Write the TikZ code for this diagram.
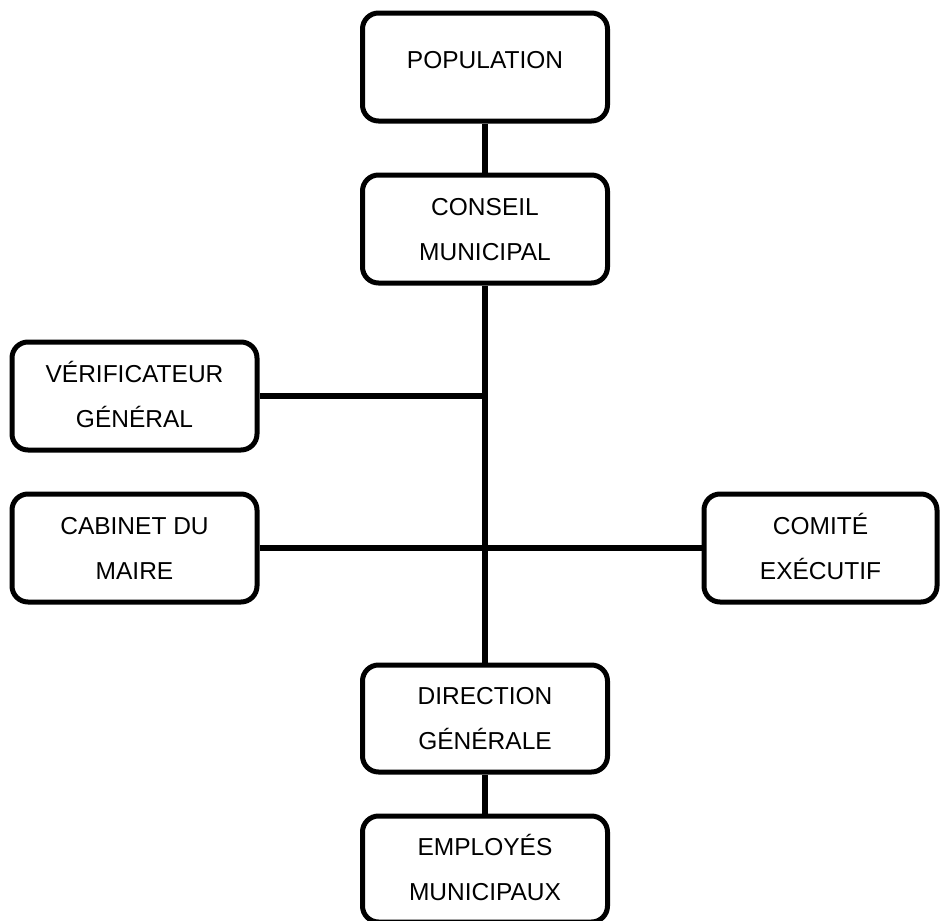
\documentclass[tikz,border=0pt]{standalone}
\usepackage{fontspec}
\setmainfont{Liberation Sans}
\newcommand\twoline[2]{\rule{0pt}{17.5pt}\smash{#1}\\\smash{#2}}
\newcommand\oneline[1]{\rule{0pt}{17.5pt}\smash{\raisebox{7pt}{#1}}}
\begin{document}
\begin{tikzpicture}[x=1pt,y=-1pt,
  box/.style={draw=black, line width=5pt, rounded corners=16pt, minimum width=245pt,
    minimum height=108pt, align=center, inner sep=0pt,
    font=\fontsize{24.5}{45}\selectfont, text=black},
  link/.style={draw=black, line width=6.5pt}]
\useasboundingbox (0,0) rectangle (940,921);
\node[box] (pop) at (485,67) {\oneline{POPULATION}};
\node[box] (cons) at (485,229) {\twoline{CONSEIL}{MUNICIPAL}};
\node[box] (verif) at (134.5,396) {\twoline{VÉRIFICATEUR}{GÉNÉRAL}};
\node[box] (cab) at (134.5,548) {\twoline{CABINET DU}{MAIRE}};
\node[box, minimum width=233pt] (com) at (820.5,548) {\twoline{COMITÉ}{EXÉCUTIF}};
\node[box, minimum height=107pt] (dir) at (485,718.5) {\twoline{DIRECTION}{GÉNÉRALE}};
\node[box, minimum height=106pt] (emp) at (485,869) {\twoline{EMPLOYÉS}{MUNICIPAUX}};
\draw[link] (pop) -- (cons);
\draw[link] (cons) -- (dir);
\draw[link] (dir) -- (emp);
\draw[link] (verif.east) -- (verif.east -| cons.south);
\draw[link] (cab) -- (com);
\end{tikzpicture}
\end{document}
